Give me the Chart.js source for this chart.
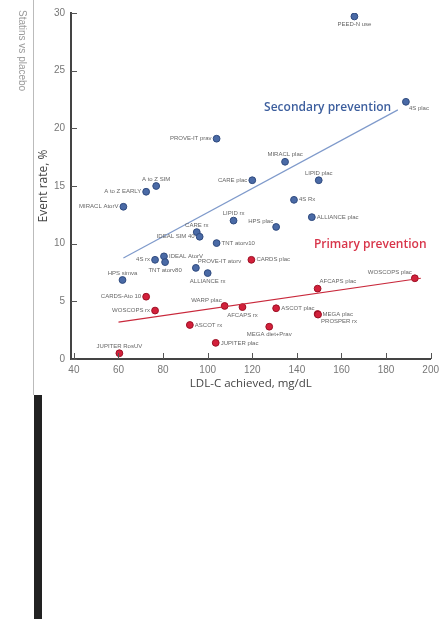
<!DOCTYPE html>
<html>
<head>
<meta charset="utf-8">
<script src="https://cdn.jsdelivr.net/npm/chart.js@4.4.1/dist/chart.umd.min.js"></script>
<style>
html, body { margin: 0; padding: 0; background: #fff; }
#wrap { position: relative; width: 444px; height: 619px; }
</style>
</head>
<body>
<div id="wrap"><canvas id="chart" width="444" height="619"></canvas></div>
<script>
// tick labels
const xTicks = [40, 60, 80, 100, 120, 140, 160, 180, 200];
const yTicks = [0, 5, 10, 15, 20, 25, 30];

// secondary prevention trials (blue)
const secX = [165.8, 188.9, 104, 120, 134.7, 149.8, 76.9, 72.4, 62.2, 138.7, 146.7, 130.7, 111.6, 95.1, 96.4, 104, 80.4, 80.9, 76.4, 94.7, 100, 61.8];
const secY = [29.7, 22.3, 19.1, 15.5, 17.1, 15.5, 15.0, 14.5, 13.2, 13.8, 12.3, 11.45, 12.0, 11.0, 10.6, 10.05, 8.9, 8.4, 8.6, 7.9, 7.45, 6.85];
const secNames = ['PEED-N use', '4S plac', 'PROVE-IT prav', 'CARE plac', 'MIRACL plac', 'LIPID plac', 'A to Z SIM',
  'A to Z EARLY', 'MIRACL AtorV', '4S Rx', 'ALLIANCE plac', 'HPS plac', 'LIPID rx', 'CARE rx', 'IDEAL SIM 40',
  'TNT atorv10', 'IDEAL AtorV', 'TNT atorv80', '4S rx', 'PROVE-IT atorv', 'ALLIANCE rx', 'HPS simva'];
const secSide = ['b', 'br', 'l', 'l', 'a', 'a', 'a', 'l', 'l', 'r', 'r', 'al', 'a', 'a', 'l', 'r', 'r', 'b', 'l', 'ar', 'b', 'a'];

// primary prevention trials (red)
const priX = [72.4, 76.4, 92, 60.4, 107.6, 115.6, 103.6, 119.6, 130.7, 127.6, 149.3, 149.3, 149.5, 192.9];
const priY = [5.4, 4.2, 2.95, 0.5, 4.6, 4.5, 1.4, 8.6, 4.4, 2.8, 6.1, 3.9, 3.85, 7.0];
const priNames = ['CARDS-Ato 10', 'WOSCOPS rx', 'ASCOT rx', 'JUPITER RosUV', 'WARP plac', 'AFCAPS rx', 'JUPITER plac',
  'CARDS plac', 'ASCOT plac', 'MEGA diet+Prav', 'AFCAPS plac', 'MEGA plac', 'PROSPER rx', 'WOSCOPS plac'];
const priSide = ['l', 'l', 'r', 'a', 'al', 'b', 'r', 'r', 'r', 'b', 'ar', 'r', 'br', 'al'];

// trend lines
const secFitX = [62.2, 185.3];
const secFitY = [8.75, 21.6];
const priFitX = [60, 195.6];
const priFitY = [3.2, 7.0];

const BLUE = '#4a6aa6';
const RED = '#d3203b';

function pts(xs, ys) {
    return xs.map((x, i) => ({ x: x, y: ys[i] }));
}

const decor = {
    id: 'decor',
    beforeDraw(chart) {
        const ctx = chart.ctx;
        ctx.save();
        // page frame bits
        ctx.strokeStyle = '#bbb';
        ctx.lineWidth = 1;
        ctx.beginPath();
        ctx.moveTo(33.5, 0);
        ctx.lineTo(33.5, 395);
        ctx.stroke();
        ctx.fillStyle = '#222';
        ctx.fillRect(34, 395, 8, 224);
        // sideways caption on the left
        ctx.translate(22, 10);
        ctx.rotate(Math.PI / 2);
        ctx.fillStyle = '#999';
        ctx.font = '10px "Liberation Sans", sans-serif';
        ctx.textAlign = 'left';
        ctx.textBaseline = 'middle';
        ctx.fillText('Statins vs placebo', 0, 0);
        ctx.restore();
    },
    afterDatasetsDraw(chart) {
        const ctx = chart.ctx;
        const xs = chart.scales.x, ys = chart.scales.y;
        const area = chart.chartArea;
        ctx.save();
        // inward ticks
        ctx.strokeStyle = '#555';
        ctx.lineWidth = 1;
        xTicks.forEach(v => {
            const px = Math.round(xs.getPixelForValue(v)) + 0.5;
            ctx.beginPath();
            ctx.moveTo(px, area.bottom);
            ctx.lineTo(px, area.bottom - 6);
            ctx.stroke();
        });
        yTicks.forEach(v => {
            const py = Math.round(ys.getPixelForValue(v)) + 0.5;
            ctx.beginPath();
            ctx.moveTo(area.left, py);
            ctx.lineTo(area.left + 6, py);
            ctx.stroke();
        });

        // point labels
        ctx.font = '6px "Liberation Sans", sans-serif';
        ctx.fillStyle = '#666';
        ctx.textBaseline = 'middle';
        const drawLabels = (dsIndex, names, sides) => {
            const meta = chart.getDatasetMeta(dsIndex);
            meta.data.forEach((el, i) => {
                const s = sides[i];
                let tx = el.x, ty = el.y;
                if (s === 'l') { ctx.textAlign = 'right'; tx -= 5; }
                else if (s === 'r') { ctx.textAlign = 'left'; tx += 5; }
                else if (s === 'a') { ctx.textAlign = 'center'; ty -= 7; }
                else if (s === 'b') { ctx.textAlign = 'center'; ty += 8; }
                else if (s === 'al') { ctx.textAlign = 'right'; tx -= 3; ty -= 6; }
                else if (s === 'ar') { ctx.textAlign = 'left'; tx += 2; ty -= 7; }
                else if (s === 'br') { ctx.textAlign = 'left'; tx += 3; ty += 7; }
                ctx.fillText(names[i], tx, ty);
            });
        };
        drawLabels(2, secNames, secSide);
        drawLabels(3, priNames, priSide);

        // group captions
        ctx.font = '600 12px "Open Sans", sans-serif';
        ctx.textAlign = 'center';
        ctx.fillStyle = '#3d5f9e';
        ctx.fillText('Secondary prevention', xs.getPixelForValue(153.8), ys.getPixelForValue(21.8));
        ctx.fillStyle = '#d8354a';
        ctx.fillText('Primary prevention', xs.getPixelForValue(172.9), ys.getPixelForValue(9.9));
        ctx.restore();
    }
};

const ctx = document.getElementById('chart').getContext('2d');
const myChart = new Chart(ctx, {
    type: 'scatter',
    data: {
        datasets: [{
            type: 'line',
            data: pts(secFitX, secFitY),
            borderColor: '#7f9acb',
            borderWidth: 1.2,
            pointRadius: 0,
            fill: false
        }, {
            type: 'line',
            data: pts(priFitX, priFitY),
            borderColor: '#c9283b',
            borderWidth: 1.2,
            pointRadius: 0,
            fill: false
        }, {
            label: 'Secondary prevention',
            data: pts(secX, secY),
            backgroundColor: BLUE,
            borderColor: '#2f4a7e',
            borderWidth: 1,
            pointRadius: 3.4
        }, {
            label: 'Primary prevention',
            data: pts(priX, priY),
            backgroundColor: RED,
            borderColor: '#9c1024',
            borderWidth: 1,
            pointRadius: 3.4
        }]
    },
    options: {
        responsive: false,
        animation: false,
        events: [],
        layout: {
            padding: { left: 32, top: 13, right: 11, bottom: 224 }
        },
        plugins: {
            legend: { display: false },
            tooltip: { enabled: false }
        },
        scales: {
            x: {
                type: 'linear',
                min: 38.7,
                max: 200,
                afterBuildTicks: s => { s.ticks = xTicks.map(v => ({ value: v })); },
                afterFit: s => { s.height = 36; },
                grid: { display: false, drawTicks: false },
                border: { display: true, color: '#444', width: 2 },
                ticks: {
                    color: '#777',
                    padding: 5,
                    font: { family: '"Liberation Sans", sans-serif', size: 10 }
                },
                title: {
                    display: true,
                    text: 'LDL-C achieved, mg/dL',
                    color: '#444',
                    padding: { top: 2, bottom: 4 },
                    font: { family: '"Open Sans", sans-serif', size: 11.5 }
                }
            },
            y: {
                type: 'linear',
                min: 0,
                max: 30,
                afterBuildTicks: s => { s.ticks = yTicks.map(v => ({ value: v })); },
                afterFit: s => { s.width = 39; },
                grid: { display: false, drawTicks: false },
                border: { display: true, color: '#444', width: 2 },
                ticks: {
                    color: '#777',
                    padding: 6,
                    font: { family: '"Liberation Sans", sans-serif', size: 10 }
                },
                title: {
                    display: true,
                    text: 'Event rate, %',
                    color: '#444',
                    padding: { top: 4, bottom: 2 },
                    font: { family: '"Open Sans", sans-serif', size: 12 }
                }
            }
        }
    },
    plugins: [decor]
});
</script>
</body>
</html>
